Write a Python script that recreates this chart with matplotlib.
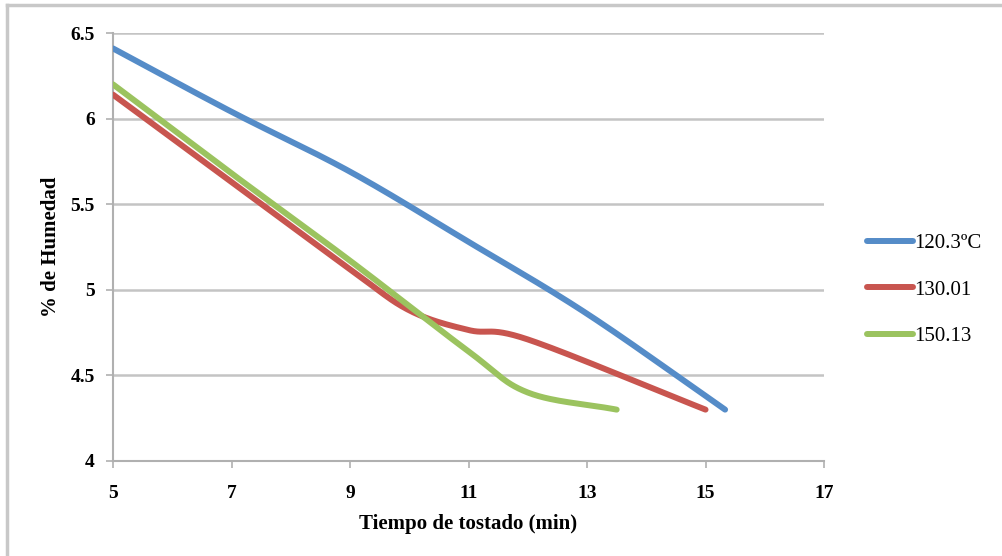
import matplotlib
matplotlib.use('Agg')
import matplotlib.pyplot as plt
from matplotlib.lines import Line2D
import numpy as np

# Data
t_120 = [5, 7, 9, 11, 13, 15.33]
h_120 = [6.41, 6.04, 5.69, 5.28, 4.86, 4.30]

t_130 = [5, 7, 9, 10, 11, 12, 15]
h_130 = [6.14, 5.63, 5.12, 4.88, 4.765, 4.71, 4.30]

t_150 = [5, 7, 9, 11, 12, 13.5]
h_150 = [6.20, 5.68, 5.17, 4.64, 4.40, 4.30]

labels = ['120.3ºC', '130.01', '150.13']
colors = ['#558CC8', '#C8554F', '#9BC35F']

x_ticks = [5, 7, 9, 11, 13, 15, 17]
y_ticks = [4, 4.5, 5, 5.5, 6, 6.5]


def smooth(x, y, n=30):
    # Excel-like smoothed line (Catmull-Rom through the data points)
    x = np.asarray(x, float)
    y = np.asarray(y, float)
    px = np.concatenate([[2 * x[0] - x[1]], x, [2 * x[-1] - x[-2]]])
    py = np.concatenate([[2 * y[0] - y[1]], y, [2 * y[-1] - y[-2]]])
    xs, ys = [], []
    s = np.linspace(0, 1, n)
    for i in range(1, len(px) - 2):
        c1x = px[i] + (px[i + 1] - px[i - 1]) / 6
        c1y = py[i] + (py[i + 1] - py[i - 1]) / 6
        c2x = px[i + 1] - (px[i + 2] - px[i]) / 6
        c2y = py[i + 1] - (py[i + 2] - py[i]) / 6
        b0, b1, b2, b3 = (1 - s) ** 3, 3 * s * (1 - s) ** 2, 3 * s ** 2 * (1 - s), s ** 3
        xs.append(b0 * px[i] + b1 * c1x + b2 * c2x + b3 * px[i + 1])
        ys.append(b0 * py[i] + b1 * c1y + b2 * c2y + b3 * py[i + 1])
    return np.concatenate(xs), np.concatenate(ys)


plt.rcParams['font.family'] = ['Liberation Serif', 'DejaVu Serif']

fig = plt.figure(figsize=(10.02, 5.56), dpi=100)
ax = fig.add_axes([0.1128, 0.1709, 0.7096, 0.7697])

for (tx, hy), lab, col in zip([(t_120, h_120), (t_130, h_130), (t_150, h_150)], labels, colors):
    sx, sy = smooth(tx, hy)
    ax.plot(sx, sy, color=col, linewidth=4.3, solid_capstyle='round', label=lab, zorder=3)

ax.set_xlim(5, 17)
ax.set_ylim(4, 6.5)
ax.set_xticks(x_ticks)
ax.set_yticks(y_ticks)
ax.set_xticklabels([str(v) for v in x_ticks], fontweight='bold')
ax.set_yticklabels(['4', '4.5', '5', '5.5', '6', '6.5'], fontweight='bold')
ax.grid(axis='y', color='#c4c4c4', linewidth=1.8, zorder=0)
ax.set_axisbelow(True)

for side in ['top', 'right']:
    ax.spines[side].set_visible(False)
for side in ['left', 'bottom']:
    ax.spines[side].set_color('#b0b0b0')
    ax.spines[side].set_linewidth(1.5)

ax.tick_params(axis='both', colors='#b0b0b0', length=5, width=1.2, labelsize=14, labelcolor='black')
ax.tick_params(axis='x', pad=12)
ax.tick_params(axis='y', pad=8)

ax.set_xlabel('Tiempo de tostado (min)', fontsize=15, fontweight='bold', labelpad=9)
ax.set_ylabel('% de Humedad', fontsize=15, fontweight='bold', labelpad=7)

leg = ax.legend(loc='center left', bbox_to_anchor=(1.06, 0.40), frameon=False, fontsize=15,
                handlelength=2.2, handletextpad=0.1, labelspacing=1.3, borderpad=0, borderaxespad=0)

# Outer frame (top and left edges of the chart area)
fig.add_artist(Line2D([0.007, 1.0], [0.991, 0.991], transform=fig.transFigure, color='#c8c8c8', linewidth=2.5))
fig.add_artist(Line2D([0.007, 0.007], [0.0, 0.991], transform=fig.transFigure, color='#c8c8c8', linewidth=2.5))

plt.savefig('out.png', dpi=100, facecolor='white')
